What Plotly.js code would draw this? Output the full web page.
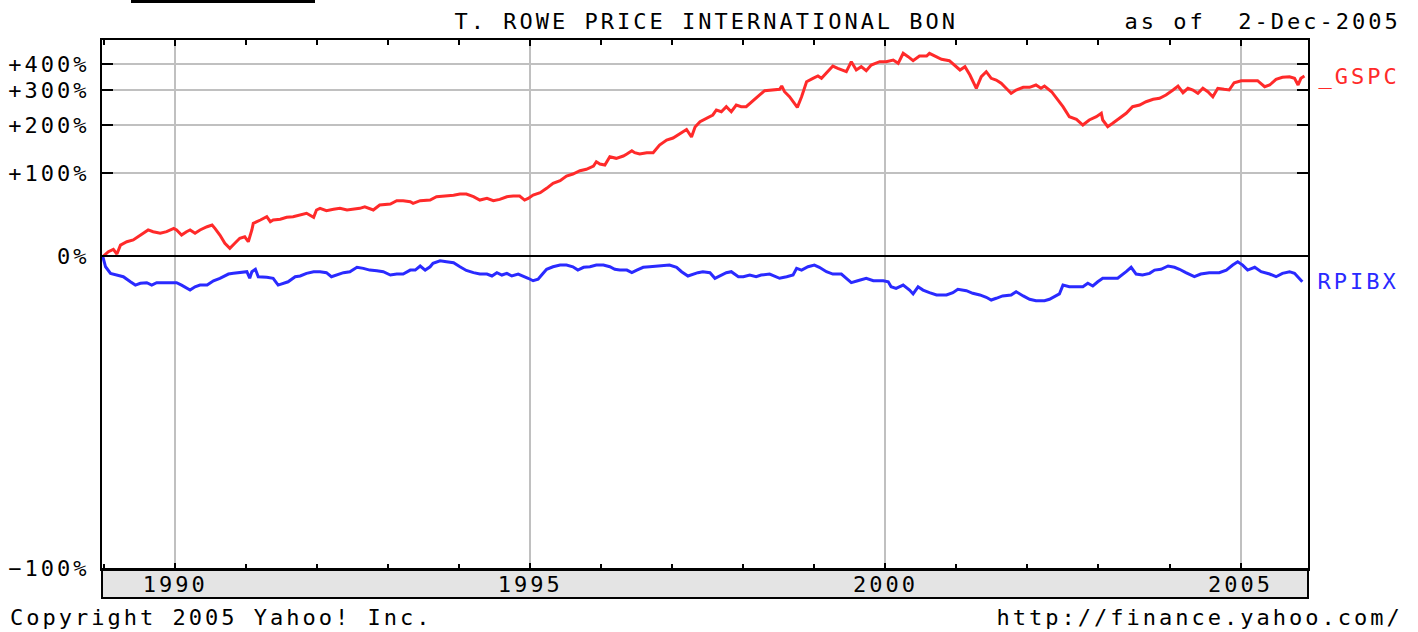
<!DOCTYPE html>
<html>
<head>
<meta charset="utf-8">
<script src="https://cdn.plot.ly/plotly-3.0.1.min.js"></script>
<style>
  html, body { margin: 0; padding: 0; background: #ffffff; }
  #chart { width: 1418px; height: 632px; }
  #chart text { letter-spacing: 3px; }
</style>
</head>
<body>
<div id="chart"></div>
<script>
// ---- data (percent change since start) ----
const gspcYear = [1988.99,1989.06,1989.13,1989.18,1989.23,1989.32,1989.41,1989.48,1989.55,1989.62,1989.69,1989.79,1989.88,1989.98,1990.02,1990.09,1990.16,1990.21,1990.28,1990.35,1990.45,1990.52,1990.56,1990.63,1990.70,1990.77,1990.84,1990.91,1990.98,1991.03,1991.08,1991.10,1991.20,1991.29,1991.34,1991.38,1991.48,1991.57,1991.66,1991.76,1991.85,1991.95,1991.99,1992.04,1992.13,1992.23,1992.32,1992.42,1992.51,1992.60,1992.67,1992.74,1992.79,1992.88,1993.03,1993.12,1993.21,1993.31,1993.35,1993.45,1993.59,1993.68,1993.82,1993.92,1994.01,1994.10,1994.20,1994.29,1994.39,1994.48,1994.57,1994.67,1994.76,1994.85,1994.92,1994.97,1995.04,1995.14,1995.23,1995.32,1995.42,1995.51,1995.60,1995.70,1995.79,1995.89,1995.93,1995.98,1996.05,1996.12,1996.21,1996.31,1996.36,1996.43,1996.47,1996.54,1996.64,1996.73,1996.82,1996.92,1997.01,1997.11,1997.20,1997.27,1997.32,1997.39,1997.48,1997.57,1997.62,1997.69,1997.76,1997.83,1997.90,1997.97,1998.04,1998.14,1998.23,1998.30,1998.42,1998.51,1998.54,1998.58,1998.65,1998.72,1998.76,1998.82,1998.89,1998.98,1999.05,1999.10,1999.17,1999.26,1999.33,1999.40,1999.45,1999.52,1999.59,1999.66,1999.73,1999.80,1999.92,2000.01,2000.11,2000.18,2000.25,2000.32,2000.39,2000.48,2000.58,2000.62,2000.72,2000.79,2000.90,2000.97,2001.05,2001.12,2001.19,2001.28,2001.35,2001.42,2001.49,2001.56,2001.63,2001.70,2001.77,2001.84,2001.94,2002.03,2002.12,2002.19,2002.24,2002.34,2002.43,2002.50,2002.59,2002.69,2002.78,2002.87,2002.97,2003.04,2003.06,2003.13,2003.20,2003.30,2003.39,2003.48,2003.58,2003.67,2003.77,2003.86,2003.95,2004.05,2004.12,2004.19,2004.26,2004.33,2004.40,2004.47,2004.54,2004.61,2004.68,2004.77,2004.84,2004.91,2005.01,2005.13,2005.24,2005.34,2005.41,2005.50,2005.59,2005.69,2005.76,2005.81,2005.85,2005.90];
const gspcPct = [0,3.7,5.8,1.7,9.6,12.7,14.4,17.5,21.0,24.4,22.6,21.0,22.6,26.1,24.4,19.2,22.6,24.4,21.0,24.4,27.8,29.7,26.1,19.2,11.3,6.7,11.3,16.0,17.5,12.7,24.4,31.5,35.2,39.0,33.3,35.2,36.0,38.3,39.0,41.0,43.0,38.3,47.0,49.1,46.2,47.9,49.1,47.0,47.9,49.1,51.1,49.1,47.0,53.3,54.6,58.9,58.9,57.6,55.5,58.9,59.8,64.3,65.3,66.3,68.1,68.1,64.3,59.8,62.0,58.9,60.7,64.3,65.3,65.3,59.8,62.0,66.7,70.0,76.2,83.8,87.9,95.4,98.7,104.2,106.7,112.5,120.2,116.1,114.3,129.7,126.6,131.0,134.9,141.5,137.5,134.9,137.5,137.5,153.3,164.1,168.6,177.8,188.4,170.8,194.5,207.9,216.8,225.7,239.6,234.8,249.1,234.8,254.1,249.1,249.1,269.3,285.1,299.1,301.5,303.8,315.1,295.8,279.6,259.2,247.3,279.6,330.4,342.8,351.4,342.8,364.1,390.8,381.5,374.7,368.0,408.9,374.7,388.0,372.0,394.9,408.9,408.9,416.1,402.1,445.9,430.6,413.1,433.7,433.7,445.9,430.6,419.0,413.1,394.9,374.7,388.0,355.2,307.3,348.8,368.0,342.8,336.6,324.7,307.3,290.3,301.5,310.6,310.6,318.6,307.3,315.1,295.8,269.3,249.1,221.0,213.9,199.5,212.3,221.0,230.3,212.3,195.3,203.9,216.8,230.3,249.1,254.1,264.0,271.5,274.5,285.1,301.5,315.1,292.4,307.3,301.5,290.3,307.3,295.8,279.6,307.3,303.8,301.5,326.8,334.0,334.0,334.0,312.7,318.6,339.2,346.5,348.8,342.8,318.6,342.8,351.4];

const rpibxYear = [1988.98,1989.02,1989.09,1989.18,1989.27,1989.37,1989.44,1989.51,1989.60,1989.67,1989.74,1989.88,1990.02,1990.09,1990.21,1990.28,1990.35,1990.45,1990.54,1990.63,1990.75,1990.82,1990.91,1991.01,1991.05,1991.08,1991.13,1991.17,1991.29,1991.38,1991.45,1991.52,1991.59,1991.69,1991.76,1991.85,1991.95,1992.04,1992.13,1992.20,1992.28,1992.37,1992.46,1992.56,1992.65,1992.74,1992.84,1992.93,1993.03,1993.12,1993.21,1993.31,1993.38,1993.45,1993.52,1993.59,1993.63,1993.73,1993.82,1993.92,1994.01,1994.10,1994.20,1994.29,1994.39,1994.46,1994.53,1994.60,1994.67,1994.74,1994.83,1994.90,1994.97,1995.04,1995.11,1995.16,1995.23,1995.32,1995.42,1995.51,1995.60,1995.67,1995.75,1995.84,1995.93,1996.03,1996.12,1996.19,1996.26,1996.36,1996.43,1996.50,1996.59,1996.68,1996.78,1996.87,1996.96,1997.06,1997.13,1997.22,1997.29,1997.36,1997.43,1997.53,1997.60,1997.67,1997.76,1997.83,1997.93,1998.00,1998.09,1998.18,1998.25,1998.37,1998.44,1998.51,1998.61,1998.70,1998.75,1998.82,1998.91,1999.00,1999.07,1999.17,1999.26,1999.38,1999.45,1999.52,1999.61,1999.73,1999.83,1999.97,2000.04,2000.08,2000.15,2000.25,2000.34,2000.39,2000.46,2000.53,2000.62,2000.72,2000.86,2000.95,2001.02,2001.14,2001.23,2001.33,2001.42,2001.49,2001.56,2001.65,2001.77,2001.84,2001.94,2002.03,2002.12,2002.24,2002.31,2002.38,2002.45,2002.50,2002.59,2002.69,2002.78,2002.85,2002.92,2002.99,2003.06,2003.18,2003.27,2003.39,2003.46,2003.53,2003.62,2003.72,2003.79,2003.88,2003.98,2004.07,2004.14,2004.23,2004.35,2004.44,2004.56,2004.70,2004.80,2004.89,2004.96,2005.03,2005.10,2005.20,2005.29,2005.41,2005.50,2005.59,2005.69,2005.76,2005.83,2005.87];
const rpibxPct = [0,-8.6,-13.5,-14.7,-15.9,-19.4,-21.6,-20.4,-20.0,-21.6,-20.0,-20.0,-20.0,-21.6,-24.8,-22.7,-21.6,-21.6,-18.7,-17.0,-14.0,-13.5,-13.0,-12.3,-17.0,-12.3,-10.5,-15.9,-16.3,-17.0,-21.6,-20.4,-19.4,-15.9,-15.4,-13.5,-12.3,-12.3,-13.0,-15.9,-14.7,-13.0,-12.3,-9.0,-9.8,-11.1,-11.6,-12.3,-14.7,-14.0,-14.0,-11.1,-11.1,-8.0,-11.1,-8.6,-5.9,-3.9,-4.7,-5.5,-8.6,-11.4,-13.0,-14.0,-14.0,-15.4,-13.0,-14.7,-13.5,-15.4,-14.0,-15.4,-17.0,-18.7,-17.7,-14.7,-10.5,-8.6,-7.3,-7.3,-8.6,-11.1,-9.0,-8.6,-7.3,-7.3,-8.6,-10.5,-11.1,-11.1,-13.0,-11.1,-9.0,-8.6,-8.0,-7.3,-7.3,-9.0,-12.3,-15.4,-14.0,-13.0,-12.3,-13.0,-17.0,-15.4,-13.0,-12.3,-15.9,-15.9,-14.7,-15.9,-14.7,-14.0,-15.4,-17.0,-15.9,-14.7,-9.8,-11.1,-8.6,-7.3,-9.0,-12.3,-14.0,-14.0,-17.0,-20.0,-18.7,-17.0,-18.7,-18.7,-19.4,-22.7,-23.7,-21.6,-24.8,-27.2,-22.7,-24.8,-26.4,-27.8,-27.8,-26.4,-24.3,-25.2,-26.8,-27.8,-29.2,-30.8,-29.8,-28.4,-27.8,-25.8,-28.4,-30.4,-31.2,-31.2,-30.4,-28.9,-27.2,-21.6,-22.7,-22.7,-22.7,-20.4,-22.2,-19.4,-17.0,-17.0,-17.0,-12.3,-9.0,-14.0,-14.7,-13.5,-11.1,-10.5,-8.0,-9.0,-10.5,-13.0,-15.9,-14.0,-13.0,-13.0,-11.1,-7.3,-4.7,-7.3,-11.1,-9.0,-12.3,-14.0,-15.9,-13.5,-12.3,-13.5,-17.0,-19.4];

const yTickPct = [-100, 0, 100, 200, 300, 400];
const yTickText = ["\u2212100%", "0%", "+100%", "+200%", "+300%", "+400%"];
const xTickYears = [1990, 1995, 2000, 2005];
const seriesNames = ["_GSPC", "RPIBX"];
const titleText = "T. ROWE PRICE INTERNATIONAL BON";
const asOfText = "as of\u00a0\u00a02-Dec-2005";
const copyrightText = "Copyright 2005 Yahoo! Inc.";
const urlText = "http://finance.yahoo.com/";

// ---- setup ----
const RED = "#ff2a2a", BLUE = "#2a2aff";
const FONT = "DejaVu Sans Mono, Liberation Mono, monospace";
const X_RANGE = [1988.97, 2005.95];
const Y_LOG_RANGE = [-1.138, 0.7855];
const toMult = p => 1 + p / 100;
// the "-100%" label sits at the bottom edge of the log scale
const yTickVals = yTickPct.map(p => p <= -100 ? Math.pow(10, Y_LOG_RANGE[0] + 0.001) : toMult(p));

const traces = [
  { x: X_RANGE, y: [1, 1], mode: "lines", line: { color: "#000000", width: 2 }, hoverinfo: "skip", showlegend: false },
  { x: rpibxYear, y: rpibxPct.map(toMult), name: seriesNames[1], mode: "lines",
    line: { color: BLUE, width: 3 }, showlegend: false },
  { x: gspcYear, y: gspcPct.map(toMult), name: seriesNames[0], mode: "lines",
    line: { color: RED, width: 3 }, showlegend: false }
];

const plotW = 1418 - 102 - 110, plotH = 632 - 40 - 63;
const px = v => (v - 102) / plotW;           // paper x from a pixel column
const py = v => (569 - v) / plotH;           // paper y from a pixel row
const CHAR_W = 16.2;                          // advance of the monospace text incl. spacing
const centerFromLeft = (left, s) => px(left + s.length * CHAR_W / 2);
const centerFromRight = (right, s) => px(right - s.length * CHAR_W / 2);

const txt = (text, x, y, color, yref) => ({
  text, xref: "paper", yref: yref || "paper", x, y, xanchor: "center", yanchor: "middle",
  showarrow: false, font: { family: FONT, size: 22, color: color || "#000000" }
});

const layout = {
  width: 1418, height: 632,
  margin: { l: 102, r: 110, t: 40, b: 63, pad: 0 },
  paper_bgcolor: "#ffffff", plot_bgcolor: "#ffffff",
  showlegend: false,
  font: { family: FONT, size: 22, color: "#000000" },
  xaxis: {
    range: X_RANGE, tickmode: "array", tickvals: xTickYears, ticktext: xTickYears.map(String),
    ticks: "inside", ticklen: 6, tickwidth: 2, tickcolor: "#000000",
    showline: true, linecolor: "#000000", linewidth: 2, mirror: "allticks",
    showgrid: true, gridcolor: "#c0c0c0", gridwidth: 2, zeroline: false,
    tickfont: { family: FONT, size: 22, color: "#000000" },
    ticklabelstandoff: -5,
    minor: { tickmode: "linear", tick0: 1990, dtick: 1, ticks: "inside", ticklen: 5, tickwidth: 2, tickcolor: "#000000", showgrid: false },
    fixedrange: true
  },
  yaxis: {
    type: "log", range: Y_LOG_RANGE, tickmode: "array", tickvals: yTickVals, ticktext: yTickText,
    ticks: "inside", ticklen: 11, tickwidth: 2, tickcolor: "#000000",
    showline: true, linecolor: "#000000", linewidth: 2, mirror: "ticks",
    showgrid: true, gridcolor: "#c0c0c0", gridwidth: 2, zeroline: false,
    tickfont: { family: FONT, size: 22, color: "#000000" },
    ticklabelstandoff: 6,
    fixedrange: true
  },
  shapes: [
    { type: "rect", xref: "paper", yref: "paper", x0: 0, x1: 1, y0: py(598), y1: 0,
      fillcolor: "#e4e4e4", line: { color: "#000000", width: 2 }, layer: "below" },
    { type: "rect", xref: "paper", yref: "paper", x0: px(131), x1: px(315), y0: py(3), y1: py(0),
      fillcolor: "#000000", line: { width: 0 } }
  ],
  annotations: [
    txt(titleText, centerFromLeft(455, titleText), py(21)),
    txt(asOfText, centerFromLeft(1125, asOfText), py(21)),
    txt(copyrightText, centerFromLeft(10, copyrightText), py(617)),
    txt(urlText, centerFromRight(1402, urlText), py(617)),
    txt(seriesNames[0], centerFromLeft(1318, seriesNames[0]), Math.log10(toMult(gspcPct[gspcPct.length - 1])), RED, "y"),
    txt(seriesNames[1], centerFromLeft(1318, seriesNames[1]), Math.log10(toMult(rpibxPct[rpibxPct.length - 1])), BLUE, "y")
  ]
};

Plotly.newPlot("chart", traces, layout, { staticPlot: true, displayModeBar: false });
</script>
</body>
</html>
